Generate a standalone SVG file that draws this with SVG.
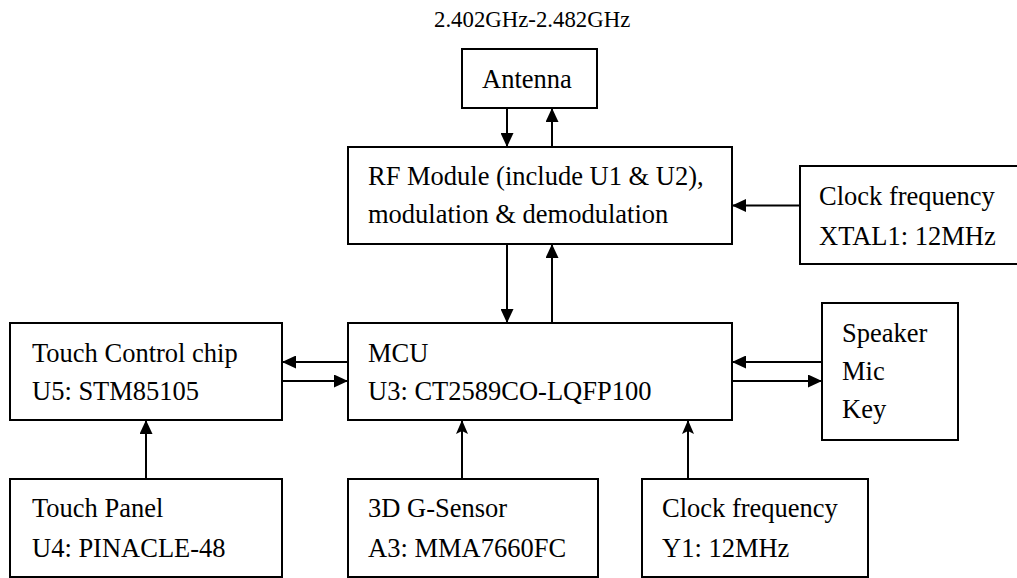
<svg xmlns="http://www.w3.org/2000/svg" width="1017" height="578" viewBox="0 0 1017 578">
  <style>
    .box { fill: #fff; stroke: #000; stroke-width: 2; }
    .lbl { font-family: "Liberation Serif", "Times New Roman", serif; font-size: 26.5px; fill: #000; }
    .top { font-family: "Liberation Serif", "Times New Roman", serif; font-size: 22.8px; fill: #000; }
    .wire { stroke: #000; stroke-width: 2; fill: none; }
    .solid { marker-end: url(#tri); }
    .sharp { marker-end: url(#stealth); }
  </style>
  <defs>
    <marker id="tri" markerUnits="userSpaceOnUse" viewBox="0 0 14 13" refX="14" refY="6.5" markerWidth="14" markerHeight="13" orient="auto">
      <path d="M0,0 L14,6.5 L0,13 z" fill="#000"/>
    </marker>
    <marker id="stealth" markerUnits="userSpaceOnUse" viewBox="0 0 14 12" refX="14" refY="6" markerWidth="14" markerHeight="12" orient="auto">
      <path d="M0,0 L14,6 L0,12 L3,6 z" fill="#000"/>
    </marker>
  </defs>

  <rect width="1017" height="578" fill="#fff"/>

  <text class="top" x="434" y="26.5">2.402GHz-2.482GHz</text>

  <!-- connectors -->
  <g id="connectors">
    <line class="wire solid" x1="507" y1="108" x2="507" y2="147"/>
    <line class="wire solid" x1="552" y1="147" x2="552" y2="108"/>
    <line class="wire solid" x1="800" y1="205.5" x2="732" y2="205.5"/>
    <line class="wire solid" x1="507" y1="244" x2="507" y2="323"/>
    <line class="wire solid" x1="552" y1="323" x2="552" y2="244"/>
    <line class="wire solid" x1="348" y1="362" x2="282" y2="362"/>
    <line class="wire solid" x1="282" y1="381" x2="348" y2="381"/>
    <line class="wire solid" x1="822" y1="362" x2="732" y2="362"/>
    <line class="wire solid" x1="732" y1="381" x2="822" y2="381"/>
    <line class="wire solid" x1="146" y1="479" x2="146" y2="420"/>
    <line class="wire sharp" x1="462" y1="479" x2="462" y2="420"/>
    <line class="wire sharp" x1="688" y1="479" x2="688" y2="420"/>
  </g>

  <g id="antenna">
    <rect class="box" x="462" y="49" width="135" height="59"/>
    <text class="lbl" x="482" y="88">Antenna</text>
  </g>

  <g id="rf-module">
    <rect class="box" x="348" y="147" width="384" height="97"/>
    <text class="lbl" x="368" y="185">RF Module (include U1 &amp; U2),</text>
    <text class="lbl" x="368" y="223">modulation &amp; demodulation</text>
  </g>

  <g id="xtal1">
    <rect class="box" x="800" y="166" width="222" height="98"/>
    <text class="lbl" x="819" y="205">Clock frequency</text>
    <text class="lbl" x="819" y="245">XTAL1: 12MHz</text>
  </g>

  <g id="touch-control">
    <rect class="box" x="10" y="323" width="272" height="97"/>
    <text class="lbl" x="32" y="362">Touch Control chip</text>
    <text class="lbl" x="32" y="400">U5: STM85105</text>
  </g>

  <g id="mcu">
    <rect class="box" x="348" y="323" width="384" height="97"/>
    <text class="lbl" x="368" y="362">MCU</text>
    <text class="lbl" x="368" y="400">U3: CT2589CO-LQFP100</text>
  </g>

  <g id="audio-io">
    <rect class="box" x="822" y="303" width="136" height="137"/>
    <text class="lbl" x="842" y="342">Speaker</text>
    <text class="lbl" x="842" y="380">Mic</text>
    <text class="lbl" x="842" y="418">Key</text>
  </g>

  <g id="touch-panel">
    <rect class="box" x="10" y="479" width="272" height="98"/>
    <text class="lbl" x="32" y="517">Touch Panel</text>
    <text class="lbl" x="32" y="557">U4: PINACLE-48</text>
  </g>

  <g id="g-sensor">
    <rect class="box" x="348" y="479" width="250" height="98"/>
    <text class="lbl" x="368" y="517">3D G-Sensor</text>
    <text class="lbl" x="368" y="557">A3: MMA7660FC</text>
  </g>

  <g id="y1-clock">
    <rect class="box" x="642" y="479" width="226" height="98"/>
    <text class="lbl" x="662" y="517">Clock frequency</text>
    <text class="lbl" x="662" y="557">Y1: 12MHz</text>
  </g>
</svg>
